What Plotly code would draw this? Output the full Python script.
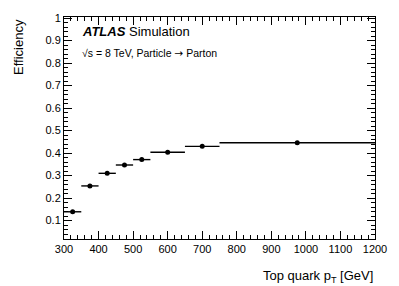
import plotly.graph_objects as go

bin_lo = [300, 350, 400, 450, 500, 550, 650, 750]
bin_hi = [350, 400, 450, 500, 550, 650, 750, 1200]
efficiency = [0.139, 0.254, 0.310, 0.347, 0.371, 0.404, 0.430, 0.446]

x_center = [(a + b) / 2 for a, b in zip(bin_lo, bin_hi)]
x_half = [(b - a) / 2 for a, b in zip(bin_lo, bin_hi)]

font = "Liberation Sans, Arial, Helvetica, sans-serif"

fig = go.Figure()
fig.add_trace(go.Scatter(
    x=x_center, y=efficiency, mode="markers",
    marker=dict(color="black", size=5),
    error_x=dict(type="data", array=x_half, visible=True, width=0, thickness=1.4, color="black"),
    showlegend=False,
))

axis_common = dict(
    showline=True, linecolor="black", linewidth=1, mirror="ticks",
    ticks="inside", ticklen=8, tickcolor="black", tickwidth=1,
    showgrid=False, zeroline=False,
    tickfont=dict(family=font, size=11, color="black"),
)

fig.update_xaxes(
    range=[300, 1200], dtick=100, tick0=300,
    minor=dict(dtick=20, ticks="inside", ticklen=4, tickcolor="black", showgrid=False),
    **axis_common,
)
fig.update_yaxes(
    range=[0.018, 1.005], tickvals=[0.1, 0.2, 0.3, 0.4, 0.5, 0.6, 0.7, 0.8, 0.9, 1.0],
    ticktext=["0.1", "0.2", "0.3", "0.4", "0.5", "0.6", "0.7", "0.8", "0.9", "1"],
    minor=dict(tickvals=[i / 50 for i in range(1, 51)], ticks="inside", ticklen=4, tickcolor="black", showgrid=False),
    **axis_common,
)

fig.add_annotation(
    text="Top quark p<sub>T</sub> [GeV]", xref="paper", yref="paper",
    x=1.0, y=-0.12, xanchor="right", yanchor="top", showarrow=False,
    font=dict(family=font, size=13, color="black"),
)
fig.add_annotation(
    text="Efficiency", xref="paper", yref="paper",
    x=-0.148, y=1.0, xanchor="center", yanchor="top", textangle=-90, showarrow=False,
    font=dict(family=font, size=13, color="black"),
)
fig.add_annotation(
    text="<b><i>ATLAS</i></b> Simulation", xref="paper", yref="paper",
    x=0.05, y=0.935, xanchor="left", yanchor="middle", showarrow=False,
    font=dict(family=font, size=13, color="black"),
)
fig.add_annotation(
    text="√s = 8 TeV, Particle <span style=\"font-family:DejaVu Sans\">→</span> Parton",
    xref="paper", yref="paper",
    x=0.05, y=0.84, xanchor="left", yanchor="middle", showarrow=False,
    font=dict(family=font, size=10.5, color="black"),
)

fig.update_layout(
    width=399, height=286,
    margin=dict(l=64, r=20, t=14, b=47),
    paper_bgcolor="white", plot_bgcolor="white",
    font=dict(family=font, color="black"),
)

fig.write_html(
    "out.html",
    config={"displayModeBar": False, "responsive": False},
    post_script="document.body.style.margin='0';document.body.style.overflow='hidden';",
)
